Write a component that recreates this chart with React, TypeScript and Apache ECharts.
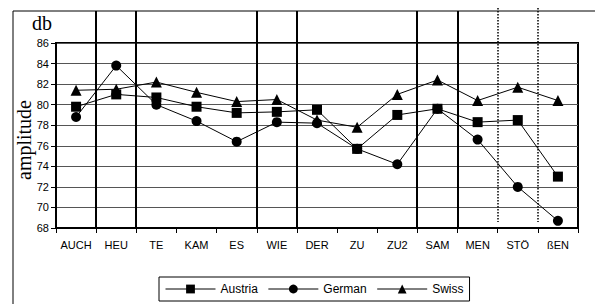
import React, { useEffect, useRef } from "react";
import * as echarts from "echarts";

const categories = ["AUCH", "HEU", "TE", "KAM", "ES", "WIE", "DER", "ZU", "ZU2", "SAM", "MEN", "STÖ", "ßEN"];
const austria = [79.8, 81.0, 80.7, 79.8, 79.2, 79.3, 79.5, 75.7, 79.0, 79.6, 78.3, 78.5, 73.0];
const german = [78.8, 83.8, 80.0, 78.4, 76.4, 78.3, 78.2, 75.7, 74.2, 79.6, 76.6, 72.0, 68.7];
const swiss = [81.4, 81.5, 82.2, 81.2, 80.3, 80.5, 78.5, 77.8, 81.0, 82.4, 80.4, 81.7, 80.4];
const yTicks = { min: 68, max: 86, interval: 2 };
// boundaries after category index
const solidSeparators = [0, 1, 4, 5, 8, 9];
const dottedSeparators = [10, 11];

export default function App() {
  const ref = useRef<HTMLDivElement>(null);
  useEffect(() => {
    if (!ref.current) return;
    const chart = echarts.init(ref.current, null, { renderer: "svg" });
    const mk = (name: string, data: number[], symbol: string, size: number) => ({
      name,
      type: "line",
      data,
      symbol,
      symbolSize: size,
      showAllSymbol: true,
      lineStyle: { color: "#000", width: 1 },
      itemStyle: { color: "#000", borderColor: "#000", borderWidth: 0 },
      emphasis: { disabled: true },
    });
    const option: any = {
      animation: false,
      grid: { left: 56, right: 17, top: 43, bottom: 76, show: true, borderColor: "#000", borderWidth: 2, backgroundColor: "transparent" },
      xAxis: {
        type: "category",
        data: categories,
        boundaryGap: true,
        axisLine: { lineStyle: { color: "#000", width: 2 } },
        axisTick: { show: true, length: 5, lineStyle: { color: "#000", width: 1 } },
        axisLabel: { color: "#000", fontFamily: "Liberation Sans, Arial", fontSize: 11, margin: 11, interval: 0 },
        splitLine: { show: false },
      },
      yAxis: {
        type: "value",
        min: yTicks.min,
        max: yTicks.max,
        interval: yTicks.interval,
        axisLine: { show: true, lineStyle: { color: "#000", width: 2 } },
        axisTick: { show: true, length: 5, lineStyle: { color: "#000", width: 1 } },
        axisLabel: { color: "#000", fontFamily: "Liberation Sans, Arial", fontSize: 11, margin: 7 },
        splitLine: { show: true, lineStyle: { color: "#555", width: 1 } },
      },
      legend: {
        data: ["Austria", "German", "Swiss"],
        left: 159,
        top: 277,
        borderColor: "#000",
        borderWidth: 1,
        padding: [6, 6, 6, 6],
        itemWidth: 50,
        itemHeight: 11,
        itemGap: 10,
        itemStyle: { color: "#000", borderColor: "#000", borderWidth: 0 },
        lineStyle: { color: "#000", width: 1 },
        textStyle: { color: "#000", fontFamily: "Liberation Sans, Arial", fontSize: 12 },
      },
      series: [
        mk("Austria", austria, "rect", 10),
        mk("German", german, "circle", 10),
        mk("Swiss", swiss, "triangle", 11),
      ],
    };
    chart.setOption(option);

    const p0 = chart.convertToPixel({ xAxisIndex: 0 }, 0) as number;
    const p1 = chart.convertToPixel({ xAxisIndex: 0 }, 1) as number;
    const half = (p1 - p0) / 2;
    const bottomY = chart.convertToPixel({ yAxisIndex: 0 }, yTicks.min) as number;
    const elements: any[] = [
      {
        type: "polyline",
        shape: { points: [[13, 304], [13, 11], [600, 11]] },
        style: { stroke: "#000", fill: null, lineWidth: 1 },
        silent: true,
      },
      {
        type: "text",
        left: 32,
        top: 13,
        style: { text: "db", fontFamily: "Liberation Serif, Times New Roman", fontSize: 20, fill: "#000" },
      },
      {
        type: "text",
        x: 24,
        y: 140,
        rotation: Math.PI / 2,
        style: {
          text: "amplitude",
          fontFamily: "Liberation Serif, Times New Roman",
          fontSize: 20,
          fill: "#000",
          align: "center",
          verticalAlign: "middle",
        },
      },
    ];
    solidSeparators.forEach((i) => {
      const x = Math.round((chart.convertToPixel({ xAxisIndex: 0 }, i) as number) + half);
      elements.push({
        type: "line",
        shape: { x1: x, y1: 11, x2: x, y2: bottomY },
        style: { stroke: "#000", lineWidth: 2 },
        silent: true,
      });
    });
    dottedSeparators.forEach((i) => {
      const x = Math.round((chart.convertToPixel({ xAxisIndex: 0 }, i) as number) + half);
      elements.push({
        type: "line",
        shape: { x1: x, y1: 8, x2: x, y2: bottomY - 6 },
        style: { stroke: "#000", lineWidth: 1.5, lineDash: [1.5, 1.5] },
        silent: true,
      });
    });
    chart.setOption({ graphic: { elements } });
    return () => chart.dispose();
  }, []);
  return <div ref={ref} style={{ position: "fixed", left: 0, top: 0, width: 595, height: 304, background: "#fff" }} />;
}
